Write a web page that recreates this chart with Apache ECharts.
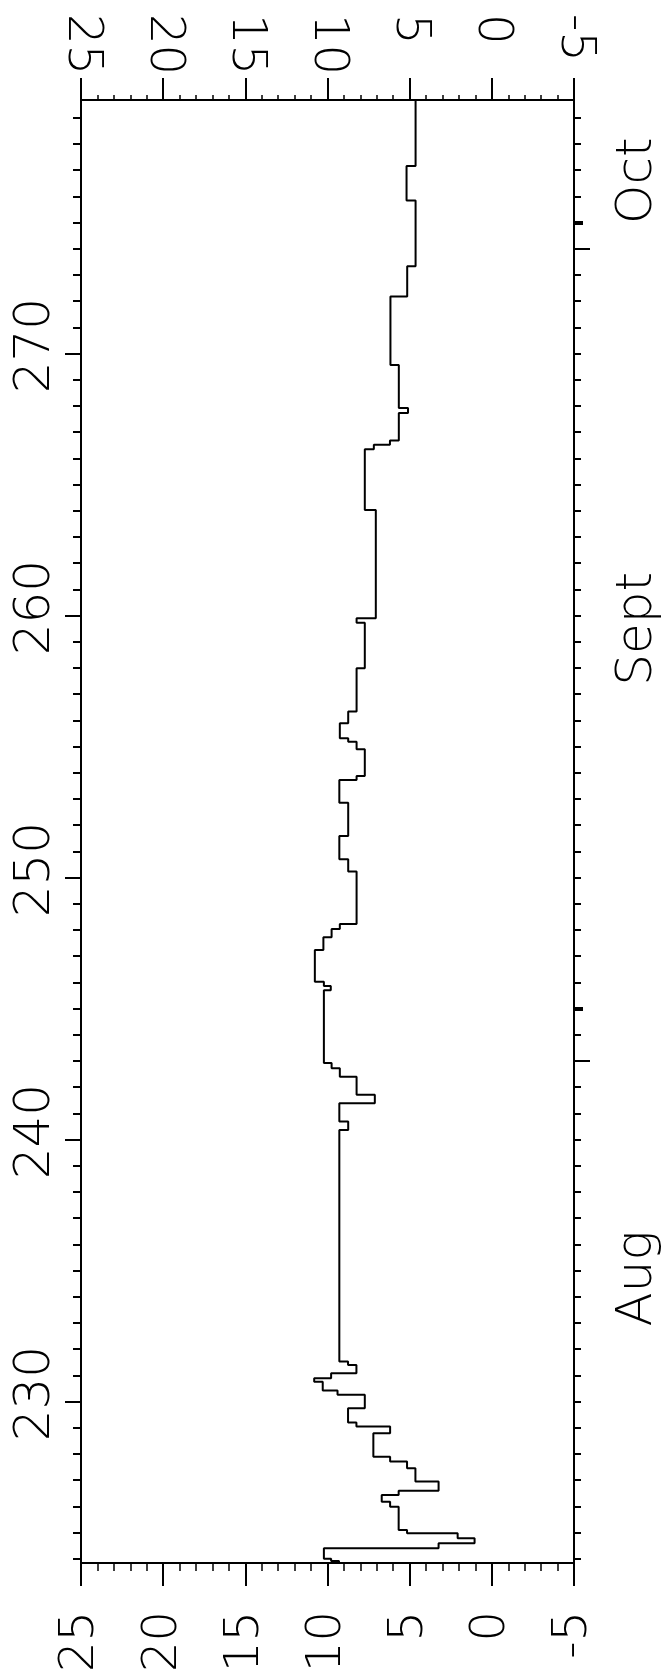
<!DOCTYPE html>
<html>
<head>
<meta charset="utf-8">
<script src="https://cdn.jsdelivr.net/npm/echarts@6/dist/echarts.min.js"></script>
<style>
  html, body { margin: 0; padding: 0; background: #fff; }
  #chart { width: 663px; height: 1675px; }
</style>
</head>
<body>
<div id="chart"></div>
<script>
// day of year where each step starts, and the value held until the next start
const stepStart = [
  223.84, 223.92, 224.0, 224.40, 224.59, 224.78, 224.98, 225.10, 225.99, 226.18,
  226.44, 226.60, 226.95, 227.46, 227.71, 227.90, 228.79, 229.05, 229.20, 229.75,
  230.26, 230.42, 230.76, 230.89, 231.08, 231.40, 231.53, 240.37, 240.69, 241.39,
  241.71, 242.40, 242.72, 242.92, 245.70, 245.86, 246.03, 247.24, 247.72, 248.04,
  248.23, 250.23, 250.70, 251.59, 252.86, 253.73, 253.88, 254.90, 255.19, 255.32,
  255.89, 256.34, 257.99, 259.73, 259.90, 264.03, 266.35, 266.52, 266.68, 267.73,
  267.92, 269.57, 272.18, 273.33, 275.84, 277.16
]
const stepValue = [
  9.30, 9.78, 10.22, 3.24, 1.05, 2.08, 5.16, 5.67, 6.19, 6.70,
  5.67, 3.24, 4.65, 5.16, 6.19, 7.21, 6.19, 8.24, 8.75, 7.73,
  9.39, 10.29, 10.81, 9.78, 8.24, 8.75, 9.28, 8.74, 9.28, 7.12,
  8.23, 9.25, 9.75, 10.22, 9.80, 10.22, 10.77, 10.25, 9.75, 9.25,
  8.23, 8.74, 9.28, 8.74, 9.28, 8.23, 7.73, 8.23, 8.74, 9.25,
  8.74, 8.23, 7.73, 8.23, 7.06, 7.73, 7.18, 6.20, 5.66, 5.10,
  5.66, 6.17, 5.15, 4.64, 5.19, 4.64
]
const dayMin = 223.84
const dayMax = 279.68

const dayLabels = [230, 240, 250, 260, 270]
const monthTicks = [243, 274]
const boldTicks = [245, 275]
const monthNames = ['Aug', 'Sept', 'Oct']
const monthLabelDays = [234.7, 259.5, 276.6]

// one tick per day
const dayTicks = []
for (let d = Math.ceil(dayMin); d <= Math.floor(dayMax); d++) dayTicks.push(d)

// step path: hold each value until the next start
const path = []
stepStart.forEach((d, i) => {
  const end = i + 1 < stepStart.length ? stepStart[i + 1] : dayMax
  path.push([stepValue[i], d])
  path.push([stepValue[i], end])
})

const font = { fontFamily: 'DejaVu Sans', fontWeight: 200, fontSize: 50, color: '#000' }
const lineStyle = { color: '#000', width: 2 }

const valueAxis = (pos, tickLen, minorLen, label) => ({
  type: 'value',
  position: pos,
  min: -5,
  max: 25,
  interval: 5,
  inverse: true,
  axisLine: { show: true, onZero: false, lineStyle },
  axisTick: { show: true, length: tickLen, lineStyle },
  minorTick: { show: true, splitNumber: 5, length: minorLen, lineStyle: { color: '#000', width: 1.5 } },
  splitLine: { show: false },
  minorSplitLine: { show: false },
  axisLabel: Object.assign({ show: true, rotate: 90, showMinLabel: true, showMaxLabel: true }, font, { fontSize: 48 }, label)
})

const dayAxis = (pos, ticks, tickLen, label, showLine, tickWidth) => ({
  type: 'value',
  position: pos,
  min: dayMin,
  max: dayMax,
  axisLine: { show: showLine, onZero: false, lineStyle },
  axisTick: { show: true, customValues: ticks, length: tickLen, lineStyle: { color: '#000', width: tickWidth || 2 } },
  splitLine: { show: false },
  axisLabel: label ? Object.assign({ rotate: 90 }, font, label) : { show: false }
})

const chart = echarts.init(document.getElementById('chart'))
chart.setOption({
  animation: false,
  backgroundColor: '#fff',
  grid: { left: 81, right: 89, top: 100, bottom: 112, outerBoundsMode: 'none', containLabel: false },
  xAxis: [
    valueAxis('bottom', 23, 8, { margin: 48 }),
    // flipped inside so the far ends of the labels line up at the top
    valueAxis('top', 22, 5, { inside: true, margin: -86 })
  ],
  yAxis: [
    dayAxis('left', dayLabels, 16, {
      customValues: dayLabels, margin: 20, padding: [0, 0, 0, 16]
    }, true),
    dayAxis('left', dayTicks, 8, null, false),
    dayAxis('right', dayTicks, 7, {
      customValues: monthLabelDays, margin: 39,
      formatter: v => monthNames[monthLabelDays.indexOf(v)] || ''
    }, true),
    dayAxis('right', monthTicks, 16, null, false),
    dayAxis('right', boldTicks, 9, null, false, 4)
  ],
  series: [{
    type: 'line',
    xAxisIndex: 0,
    yAxisIndex: 0,
    data: path,
    symbol: 'none',
    lineStyle: { color: '#000', width: 2 }
  }]
})
</script>
</body>
</html>
